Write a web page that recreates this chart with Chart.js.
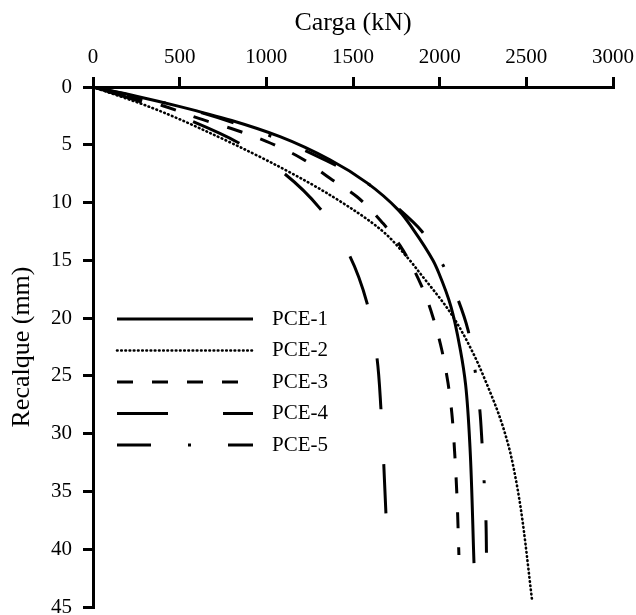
<!DOCTYPE html>
<html>
<head>
<meta charset="utf-8">
<script src="https://cdn.jsdelivr.net/npm/chart.js@4/dist/chart.umd.min.js"></script>
<style>
  html, body { margin: 0; padding: 0; background: #fff; }
  #wrap { width: 636px; height: 615px; }
</style>
</head>
<body>
<div id="wrap"><canvas id="c" width="636" height="615"></canvas></div>
<script>
// ---- Data ----
const seriesLabels = ['PCE-1', 'PCE-2', 'PCE-3', 'PCE-4', 'PCE-5'];

const loadPCE1 = [0, 250, 502, 800, 1079, 1367, 1581, 1765, 1846, 1961, 1995, 2065, 2120, 2150, 2175, 2198];
const settPCE1 = [0, 0.8, 1.7, 2.9, 4.3, 6.3, 8.3, 10.7, 12.3, 15.0, 16.1, 19.0, 22.8, 25.8, 31.2, 41.2];

const loadPCE2 = [0, 340, 721, 1100, 1384, 1665, 1811, 1886, 2065, 2192, 2280, 2345, 2400, 2440, 2472, 2533];
const settPCE2 = [0, 1.8, 4.3, 7.1, 9.5, 12.4, 14.7, 16.1, 19.6, 23.0, 26.0, 28.5, 31.2, 34.0, 36.9, 44.4];

const loadPCE3 = [0, 398, 606, 819, 1000, 1194, 1367, 1523, 1673, 1771, 1898, 1961, 2013, 2048, 2070, 2088, 2100, 2111];
const settPCE3 = [0, 1.6, 2.7, 3.7, 4.7, 6.1, 7.9, 9.5, 11.8, 13.7, 17.3, 19.9, 22.8, 25.6, 28.2, 32.0, 35.5, 40.5];

const loadPCE4 = [0, 280, 577, 836, 1096, 1309, 1477, 1581, 1638, 1661, 1690];
const settPCE4 = [0, 1.3, 3.0, 4.8, 7.4, 10.5, 14.5, 18.7, 23.4, 27.8, 36.9];

const loadPCE5 = [0, 500, 1000, 1350, 1580, 1760, 1898, 2019, 2106, 2163, 2204, 2232, 2244, 2256, 2267, 2270];
const settPCE5 = [0, 1.7, 4.1, 6.4, 8.3, 10.5, 12.5, 15.4, 18.4, 21.0, 24.5, 28.0, 30.7, 34.0, 37.5, 40.3];

const xTickStep = 500;   // Carga ticks 0..3000
const yTickStep = 5;     // Recalque ticks 0..45

// ---- Build chart ----
function pts(xs, ys) { return xs.map((x, i) => ({ x: x, y: ys[i] })); }

const styles = [
  { borderDash: [], borderWidth: 3, borderCapStyle: 'butt' },
  { borderDash: [0.6, 3.6], borderWidth: 2.6, borderCapStyle: 'round' },
  { borderDash: [16, 19], borderWidth: 3, borderCapStyle: 'butt' },
  { borderDash: [51, 55], borderWidth: 3, borderCapStyle: 'butt' },
  { borderDash: [34, 37, 3, 37], borderWidth: 3, borderCapStyle: 'butt' }
];
const allX = [loadPCE1, loadPCE2, loadPCE3, loadPCE4, loadPCE5];
const allY = [settPCE1, settPCE2, settPCE3, settPCE4, settPCE5];

const datasets = seriesLabels.map((lab, i) => Object.assign({
  label: lab,
  data: pts(allX[i], allY[i]),
  borderColor: '#000',
  backgroundColor: '#000',
  pointRadius: 0,
  cubicInterpolationMode: 'monotone',
  fill: false
}, styles[i]));

const legendPlugin = {
  id: 'inlineLegend',
  afterDatasetsDraw(chart) {
    const ctx = chart.ctx;
    const a = chart.chartArea;
    ctx.save();
    chart.data.datasets.forEach((ds, i) => {
      const y = a.top + 232 + i * 31.5;
      ctx.beginPath();
      ctx.setLineDash(ds.borderDash || []);
      ctx.lineDashOffset = 0;
      ctx.lineWidth = ds.borderWidth;
      ctx.lineCap = ds.borderCapStyle;
      ctx.strokeStyle = '#000';
      ctx.moveTo(a.left + 24, y);
      ctx.lineTo(a.left + 160, y);
      ctx.stroke();
      ctx.setLineDash([]);
      ctx.fillStyle = '#000';
      ctx.font = '21px "Liberation Serif", "Times New Roman", serif';
      ctx.textAlign = 'left';
      ctx.textBaseline = 'middle';
      ctx.fillText(ds.label, a.left + 179, y);
    });
    ctx.restore();
  }
};

const tickFont = { family: '"Liberation Serif", "Times New Roman", serif', size: 21 };
const titleFont = { family: '"Liberation Serif", "Times New Roman", serif', size: 26 };

new Chart(document.getElementById('c'), {
  type: 'line',
  data: { datasets: datasets },
  options: {
    indexAxis: 'y',
    responsive: false,
    animation: false,
    devicePixelRatio: 1,
    layout: { padding: { left: 0, top: 0, right: 23, bottom: 8 } },
    plugins: { legend: { display: false }, tooltip: { enabled: false } },
    scales: {
      x: {
        type: 'linear',
        position: 'top',
        min: 0, max: 3000,
        ticks: { stepSize: xTickStep, color: '#000', font: tickFont, padding: 7, maxRotation: 0,
                 callback: (v) => String(v) },
        grid: { display: true, drawOnChartArea: false, drawTicks: true, tickLength: 10, color: '#000', lineWidth: 3 },
        border: { display: true, color: '#000', width: 3 },
        title: { display: true, text: 'Carga (kN)', color: '#000', font: titleFont, padding: { top: 8, bottom: 0 } },
        afterFit(s) { s.height = 87; s.paddingLeft = 0; s.paddingRight = 0; }
      },
      y: {
        type: 'linear',
        position: 'left',
        reverse: true,
        min: 0, max: 45,
        ticks: { stepSize: yTickStep, color: '#000', font: tickFont, padding: 11,
                 callback: (v) => String(v) },
        grid: { display: true, drawOnChartArea: false, drawTicks: true, tickLength: 10, color: '#000', lineWidth: 3 },
        border: { display: true, color: '#000', width: 3 },
        title: { display: true, text: 'Recalque (mm)', color: '#000', font: titleFont, padding: { top: 7, bottom: 0 } },
        afterFit(s) { s.width = 93; s.paddingTop = 0; s.paddingBottom = 0; }
      }
    }
  },
  plugins: [legendPlugin]
});
</script>
</body>
</html>
